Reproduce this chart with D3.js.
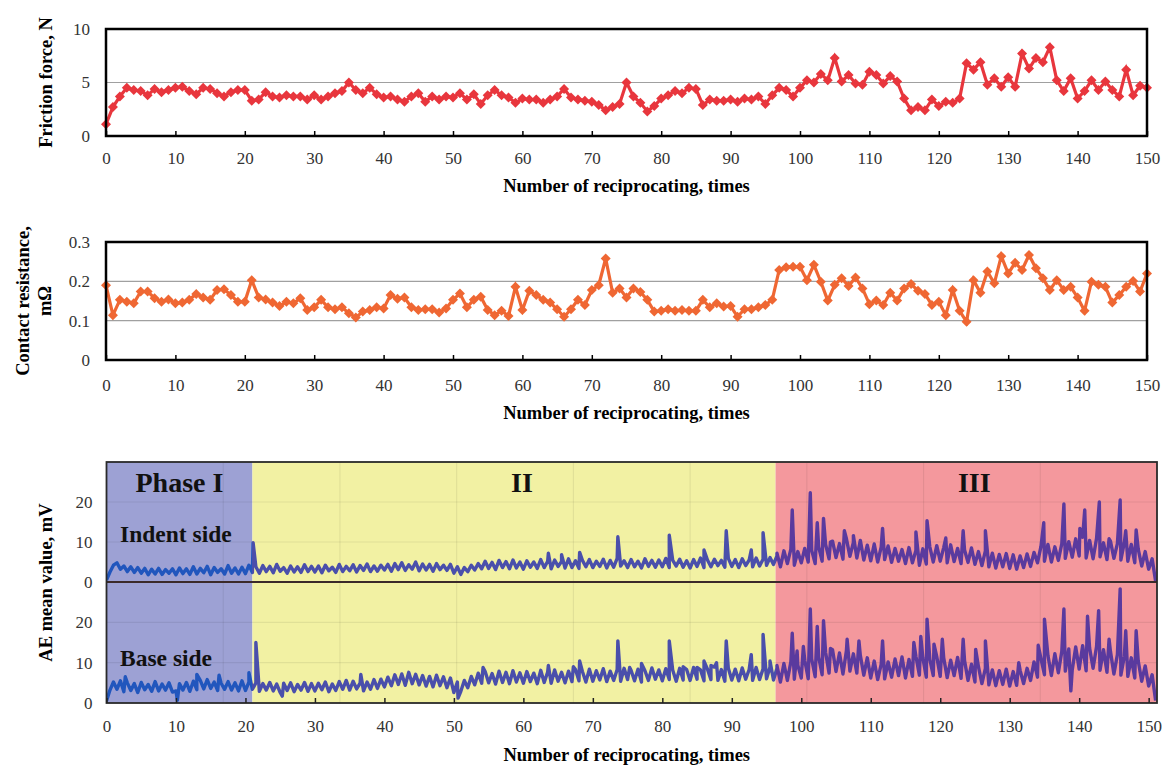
<!DOCTYPE html>
<html>
<head>
<meta charset="utf-8">
<script src="https://cdn.jsdelivr.net/npm/d3@7"></script>
<style>
  body { margin: 0; background: #fff; }
  text { font-family: "Liberation Serif", "Times New Roman", serif; }
</style>
</head>
<body>
<div id="chart"></div>
<script>
// reciprocating cycles 0..150 for the two marker charts
var cycles = d3.range(0, 151);

// Friction force, N
var frictionForce = [
  1.1, 2.7, 3.7, 4.5, 4.3, 4.2, 3.8, 4.4, 4.1, 4.3,
  4.5, 4.6, 4.2, 3.9, 4.5, 4.4, 4.0, 3.7, 4.1, 4.3,
  4.3, 3.3, 3.4, 4.1, 3.7, 3.6, 3.8, 3.7, 3.7, 3.4,
  3.8, 3.4, 3.7, 4.0, 4.2, 5.0, 4.3, 4.0, 4.5, 3.9,
  3.6, 3.7, 3.4, 3.2, 3.7, 4.0, 3.2, 3.7, 3.4, 3.7,
  3.6, 4.0, 3.4, 3.9, 3.0, 3.8, 4.3, 3.8, 3.6, 3.1,
  3.5, 3.4, 3.4, 3.1, 3.4, 3.7, 4.4, 3.6, 3.4, 3.3,
  3.2, 2.9, 2.4, 2.7, 3.0, 5.0, 3.7, 3.1, 2.3, 2.8,
  3.5, 3.8, 4.2, 4.0, 4.5, 4.4, 2.9, 3.4, 3.3, 3.3,
  3.4, 3.2, 3.5, 3.4, 3.7, 3.0, 3.8, 4.5, 4.3, 3.7,
  4.5, 5.2, 5.0, 5.8, 5.2, 7.3, 5.1, 5.7, 4.9, 4.8,
  6.0, 5.7, 4.9, 5.6, 5.1, 3.5, 2.4, 2.7, 2.4, 3.4,
  2.8, 3.2, 3.1, 3.5, 6.8, 6.2, 6.9, 4.8, 5.4, 4.6,
  5.5, 4.6, 7.7, 6.3, 7.3, 6.9, 8.3, 5.2, 4.2, 5.4,
  3.5, 4.2, 5.2, 4.3, 5.1, 4.3, 3.7, 6.2, 3.8, 4.7,
  4.5
];

// Contact resistance, mOhm
var contactResistance = [
  0.190, 0.114, 0.153, 0.148, 0.144, 0.174, 0.174, 0.157, 0.148, 0.154,
  0.144, 0.146, 0.153, 0.168, 0.159, 0.153, 0.178, 0.180, 0.165, 0.148,
  0.148, 0.203, 0.159, 0.154, 0.146, 0.137, 0.148, 0.144, 0.157, 0.127,
  0.134, 0.153, 0.134, 0.129, 0.134, 0.119, 0.108, 0.123, 0.127, 0.134,
  0.131, 0.165, 0.156, 0.159, 0.134, 0.127, 0.129, 0.129, 0.121, 0.131,
  0.153, 0.169, 0.134, 0.153, 0.161, 0.127, 0.114, 0.125, 0.112, 0.186,
  0.127, 0.176, 0.165, 0.153, 0.146, 0.129, 0.110, 0.129, 0.153, 0.140,
  0.178, 0.190, 0.258, 0.171, 0.182, 0.159, 0.182, 0.173, 0.153, 0.123,
  0.125, 0.129, 0.125, 0.127, 0.125, 0.125, 0.153, 0.134, 0.144, 0.136,
  0.137, 0.110, 0.129, 0.129, 0.134, 0.140, 0.153, 0.229, 0.236, 0.237,
  0.237, 0.203, 0.242, 0.199, 0.151, 0.191, 0.208, 0.188, 0.210, 0.182,
  0.142, 0.151, 0.140, 0.171, 0.151, 0.182, 0.193, 0.176, 0.168, 0.140,
  0.148, 0.114, 0.178, 0.125, 0.097, 0.203, 0.171, 0.225, 0.195, 0.264,
  0.220, 0.247, 0.229, 0.267, 0.233, 0.208, 0.178, 0.203, 0.178, 0.186,
  0.159, 0.125, 0.199, 0.191, 0.186, 0.146, 0.165, 0.186, 0.201, 0.174,
  0.220
];

// AE mean value, mV, sampled every half cycle (0, 0.5, 1, ... 151)
var aeStep = 0.5;
var aeIndent = [
  0.5, 2.5, 4.2, 4.8, 3.2, 4.0, 2.6, 3.8, 2.4, 3.6, 2.2, 3.4, 1.8, 3.2, 2.0, 3.4, 1.9, 3.1, 2.2, 3.3,
  1.8, 3.5, 2.1, 3.3, 1.9, 3.8, 2.0, 3.4, 2.3, 3.9, 1.8, 3.6, 2.4, 3.3, 2.0, 4.1, 2.2, 3.5, 2.0, 3.7,
  2.1, 4.2, 2.4, 3.8, 2.2, 4.1, 2.6, 3.9, 2.3, 4.4, 2.7, 3.6, 2.2, 4.0, 2.5, 3.8, 2.4, 4.3, 2.6, 3.9,
  2.5, 4.0, 2.3, 4.2, 2.8, 3.7, 2.4, 4.4, 2.6, 3.9, 2.8, 4.3, 2.5, 4.1, 2.9, 4.5, 2.6, 4.0, 2.7, 4.2,
  3.0, 4.4, 2.7, 4.6, 3.1, 4.8, 2.9, 4.3, 3.2, 5.0, 2.8, 4.5, 3.0, 4.4, 2.7, 4.6, 3.1, 4.2, 2.9, 4.4,
  2.2, 3.8, 1.9, 3.6, 2.6, 4.2, 3.0, 4.6, 3.3, 5.2, 3.4, 4.9, 3.1, 5.4, 3.6, 5.1, 3.3, 5.5, 3.5, 5.0,
  3.2, 5.3, 3.7, 5.0, 3.4, 5.6, 3.6, 5.2, 3.3, 5.5, 3.9, 5.1, 3.5, 5.8, 3.6, 5.3, 3.4, 5.4, 3.8, 5.6,
  3.6, 5.2, 3.9, 5.7, 3.5, 5.4, 3.7, 5.9, 4.0, 5.3, 3.6, 5.6, 3.8, 5.2, 3.5, 5.8, 3.9, 5.4, 3.7, 5.5,
  3.8, 5.9, 3.6, 5.4, 4.0, 5.7, 3.7, 5.3, 3.5, 5.6, 3.9, 6.0, 3.6, 5.5, 3.8, 5.7, 4.1, 5.4, 3.7, 5.9,
  3.9, 5.6, 3.6, 5.8, 4.1, 5.5, 3.8, 6.0, 4.0, 5.7, 4.2, 6.1, 4.4, 6.5, 3.8, 7.8, 4.6, 8.2, 4.2, 7.6,
  4.8, 8.4, 5.0, 7.9, 4.6, 8.8, 5.2, 9.4, 5.8, 10.2, 6.1, 9.6, 5.7, 10.8, 6.4, 9.9, 6.0, 10.4, 5.5, 9.2,
  5.3, 9.5, 5.0, 8.7, 5.6, 9.0, 4.9, 8.4, 5.2, 8.1, 4.6, 8.6, 4.8, 7.9, 4.2, 8.3, 4.5, 8.8, 5.0, 9.1,
  5.2, 8.6, 4.8, 9.3, 5.1, 8.4, 4.6, 8.0, 4.9, 8.5, 4.4, 7.6, 4.1, 7.8, 3.8, 7.2, 3.5, 6.9, 3.8, 7.1,
  3.4, 6.8, 3.2, 6.5, 3.6, 7.0, 3.9, 7.4, 4.8, 8.9, 5.2, 9.4, 5.0, 8.8, 5.4, 9.6, 5.9, 10.1, 6.2, 10.8,
  6.5, 11.2, 6.0, 10.4, 5.8, 10.9, 6.3, 9.8, 5.6, 10.2, 5.9, 9.6, 5.5, 9.9, 5.2, 9.4, 4.8, 8.2, 4.0, 7.6,
  3.2, 5.8, 0.2
];
var aeBase = [
  0.5, 3.2, 5.2, 3.4, 5.5, 2.8, 5.0, 3.1, 4.8, 2.6, 5.1, 3.3, 4.6, 2.9, 5.3, 3.0, 4.7, 3.2, 5.0, 2.7,
  3.0, 4.8, 3.2, 5.1, 2.9, 5.4, 3.3, 5.6, 3.5, 5.8, 3.6, 5.2, 3.1, 4.9, 3.4, 5.3, 3.2, 5.0, 3.0, 5.5,
  3.1, 5.2, 3.4, 5.0, 2.9, 4.8, 3.2, 5.1, 3.0, 4.7, 2.6, 4.9, 3.1, 5.0, 2.8, 4.6, 3.2, 5.1, 2.9, 4.8,
  3.0, 4.9, 3.3, 5.2, 2.8, 4.7, 3.1, 5.3, 3.4, 5.6, 3.2, 5.4, 3.5, 4.9, 3.0, 5.2, 3.4, 5.8, 3.6, 5.9,
  4.0, 6.4, 4.3, 7.0, 4.6, 7.2, 4.4, 7.6, 4.8, 7.1, 4.5, 6.8, 4.2, 6.6, 4.0, 6.9, 4.3, 6.5, 3.8, 6.2,
  2.6, 5.2, 2.9, 5.6, 3.8, 6.6, 4.5, 7.4, 4.9, 7.8, 5.0, 7.3, 4.7, 7.9, 5.1, 7.6, 4.8, 8.0, 5.2, 7.5,
  4.9, 7.8, 5.3, 7.4, 4.8, 8.1, 5.1, 7.7, 4.9, 8.2, 5.4, 7.6, 5.0, 7.9, 5.3, 8.3, 5.5, 7.8, 5.2, 8.4,
  5.4, 8.0, 5.7, 8.5, 5.3, 7.9, 5.6, 8.3, 5.4, 8.6, 5.8, 8.1, 5.5, 8.4, 5.2, 8.0, 5.6, 8.7, 5.9, 8.2,
  5.5, 8.5, 5.8, 8.1, 5.4, 8.6, 5.7, 8.3, 5.6, 8.8, 5.9, 8.2, 5.5, 8.4, 5.8, 8.9, 5.6, 8.3, 5.4, 8.6,
  5.7, 8.4, 5.5, 8.7, 5.9, 8.3, 5.6, 8.8, 5.8, 8.5, 6.0, 8.9, 5.7, 8.6, 5.2, 9.8, 5.6, 10.2, 5.9, 9.4,
  6.2, 10.6, 6.0, 10.9, 6.5, 11.4, 7.0, 12.6, 7.4, 13.2, 7.8, 12.4, 7.2, 13.0, 7.9, 12.2, 7.4, 11.8, 6.9, 11.2,
  6.2, 10.4, 5.8, 9.6, 6.0, 10.2, 6.4, 10.9, 6.8, 11.4, 6.2, 10.8, 6.6, 11.6, 6.9, 11.2, 6.4, 10.8, 6.8, 11.5,
  6.6, 11.2, 6.3, 10.6, 6.8, 11.3, 6.1, 10.5, 5.6, 9.6, 5.2, 9.0, 4.8, 8.6, 4.5, 8.2, 4.3, 8.0, 4.6, 8.4,
  4.2, 7.8, 4.4, 8.1, 4.8, 8.6, 5.6, 10.2, 6.4, 11.0, 7.0, 11.8, 6.8, 12.2, 7.5, 12.8, 7.9, 13.4, 8.2, 13.9,
  8.4, 14.2, 8.0, 13.6, 8.6, 14.0, 8.1, 13.2, 7.6, 12.8, 7.2, 12.0, 6.9, 11.6, 6.6, 11.2, 6.2, 10.4, 5.4, 9.2,
  4.2, 7.0, 0.6
];

// sharp single bursts [cycle, mV]
var indentPeaks = [
  [21.1, 9.8], [63.6, 7.2], [65.5, 6.8], [68.1, 7.4], [73.6, 11.3], [81.0, 11.7],
  [86.0, 8.0], [89.2, 12.8], [92.8, 8.0], [94.5, 12.3], [96.5, 7.2], [98.7, 18.0],
  [101.3, 22.3], [102.3, 14.8], [103.2, 15.9], [104.2, 10.0], [106.2, 12.8], [107.5, 11.6],
  [111.7, 13.4], [116.5, 12.5], [118.1, 15.3], [120.8, 11.0], [123.3, 12.8], [126.5, 12.8],
  [134.9, 14.8], [137.8, 19.5], [140.1, 13.4], [140.8, 18.0], [142.9, 20.0], [144.3, 10.8],
  [145.9, 20.5], [146.7, 12.8], [148.2, 13.0]
];
var basePeaks = [
  [2.7, 6.5], [10.2, 0.7], [13.0, 7.1], [16.2, 6.9], [20.5, 7.5], [21.5, 15.0], [25.3, 1.7],
  [36.6, 7.1], [50.6, 1.2], [54.2, 8.8], [63.6, 9.3], [67.2, 9.0], [68.1, 10.4], [73.6, 15.4],
  [75.3, 8.8], [77.0, 9.8], [81.0, 15.4], [83.0, 9.0], [85.0, 8.8], [86.0, 10.4], [87.0, 9.3],
  [87.8, 10.0], [89.2, 15.4], [92.8, 12.0], [94.5, 17.0], [95.5, 10.4], [96.5, 9.3],
  [98.7, 17.3], [99.4, 12.9], [100.3, 14.0], [101.3, 23.3], [102.3, 19.0], [103.2, 20.4],
  [104.2, 13.5], [106.6, 15.8], [108.3, 15.4], [111.7, 15.4], [116.2, 15.0], [117.2, 16.5],
  [118.1, 20.8], [119.1, 14.6], [120.3, 15.8], [123.3, 15.8], [125.1, 13.3], [126.5, 15.4],
  [131.3, 10.0], [134.1, 14.3], [135.0, 20.8], [137.8, 23.3], [138.8, 3.0], [141.2, 21.5],
  [142.8, 22.9], [144.3, 15.8], [145.9, 28.3], [146.7, 17.9], [148.2, 17.9]
];

// wear phases
var phaseNames = ["Phase I", "II", "III"];
var phaseStarts = [0, 21.0, 96.3];
var phaseEnds = [21.0, 96.3, 151.2];
var phaseFill = ["#9da1d4", "#f2f1a3", "#f4989d"];
var phaseLine = ["#2156bd", "#4a4fab", "#5a3a9e"];

var xTicks = d3.range(0, 151, 10);

var svgWidth = 1170;
var svgHeight = 767;

var svg = d3.select("#chart")
  .append("svg")
  .attr("width", svgWidth)
  .attr("height", svgHeight);

var xScale = d3.scaleLinear().domain([0, 150]).range([106, 1147]);
var diamond = "M0,-5L5,0L0,5L-5,0Z";

// one marker chart (friction / resistance)
function markerPanel(values, color, yDomain, yRange, yTicks, gridVals, titleLines, titleX, tickBase, titleBase) {
  var yScale = d3.scaleLinear().domain(yDomain).range(yRange);
  var g = svg.append("g");

  g.selectAll(".grid")
    .data(gridVals)
    .enter()
    .append("line")
    .attr("x1", xScale.range()[0])
    .attr("x2", xScale.range()[1])
    .attr("y1", d => yScale(d))
    .attr("y2", d => yScale(d))
    .attr("stroke", "#a0a0a0")
    .attr("stroke-width", 1.2);

  var line = d3.line()
    .x((d, i) => xScale(cycles[i]))
    .y(d => yScale(d));

  g.append("path")
    .datum(values)
    .attr("d", line)
    .attr("fill", "none")
    .attr("stroke", color)
    .attr("stroke-width", 3.2);

  g.selectAll(".mk")
    .data(values)
    .enter()
    .append("path")
    .attr("d", diamond)
    .attr("transform", (d, i) => `translate(${xScale(cycles[i])},${yScale(d)})`)
    .attr("fill", color);

  g.append("rect")
    .attr("x", xScale.range()[0])
    .attr("y", yRange[1])
    .attr("width", xScale.range()[1] - xScale.range()[0])
    .attr("height", yRange[0] - yRange[1])
    .attr("fill", "none")
    .attr("stroke", "#000")
    .attr("stroke-width", 2.5);

  var bottomAxis = d3.axisBottom(xScale).tickValues(xTicks).tickSize(-5).tickPadding(tickBase - yRange[0] - 12);
  var xa = g.append("g")
    .attr("transform", `translate(0, ${yRange[0]})`)
    .call(bottomAxis);
  xa.select(".domain").remove();
  xa.selectAll("line").attr("stroke", "#000").attr("stroke-width", 1.5);
  xa.selectAll("text").attr("font-family", "Liberation Serif").attr("font-size", 17).attr("fill", "#333");

  var leftAxis = d3.axisLeft(yScale).tickValues(yTicks).tickSize(0).tickPadding(16).tickFormat(d => d);
  var ya = g.append("g")
    .attr("transform", `translate(${xScale.range()[0]}, 0)`)
    .call(leftAxis);
  ya.select(".domain").remove();
  ya.selectAll("text").attr("font-family", "Liberation Serif").attr("font-size", 17).attr("fill", "#333");

  g.append("text")
    .attr("x", (xScale.range()[0] + xScale.range()[1]) / 2)
    .attr("y", titleBase)
    .attr("text-anchor", "middle")
    .attr("font-weight", "bold")
    .attr("font-size", 18.5)
    .text("Number of reciprocating, times");

  var yMid = (yRange[0] + yRange[1]) / 2;
  titleLines.forEach(function(t, i) {
    g.append("text")
      .attr("transform", `translate(${titleX[i]}, ${yMid}) rotate(-90)`)
      .attr("text-anchor", "middle")
      .attr("font-weight", "bold")
      .attr("font-size", 18.5)
      .text(t);
  });
}

markerPanel(frictionForce, "#e8363d", [0, 10], [136, 29], [0, 5, 10], [5],
  ["Friction force, N"], [52], 164, 192);
markerPanel(contactResistance, "#ef6733", [0, 0.3], [360, 242], [0, 0.1, 0.2, 0.3], [0.1, 0.2],
  ["Contact resistance,", "m\u03a9"], [29, 51], 391, 419);

// ---------------- AE panel ----------------
var xAE = d3.scaleLinear().domain([0, 151.2]).range([106.5, 1157]);
var yIndent = d3.scaleLinear().domain([0, 30]).range([582, 462]);
var yBase = d3.scaleLinear().domain([0, 30]).range([703, 582]);
var aeTop = 462, aeBottom = 703;

var ae = svg.append("g");

ae.selectAll(".phase")
  .data(phaseNames)
  .enter()
  .append("rect")
  .attr("x", (d, i) => xAE(phaseStarts[i]))
  .attr("width", (d, i) => xAE(phaseEnds[i]) - xAE(phaseStarts[i]))
  .attr("y", aeTop)
  .attr("height", aeBottom - aeTop)
  .attr("fill", (d, i) => phaseFill[i]);

// faint grid of the original AE record (9 divisions)
var gridScale = d3.scaleLinear().domain([0, 9]).range(xAE.range());
ae.selectAll(".vgrid")
  .data(d3.range(1, 9))
  .enter()
  .append("line")
  .attr("x1", d => gridScale(d))
  .attr("x2", d => gridScale(d))
  .attr("y1", aeTop)
  .attr("y2", aeBottom)
  .attr("stroke", "rgba(0,0,0,0.07)")
  .attr("stroke-width", 1.2);

[yIndent, yBase].forEach(function(ys) {
  ae.selectAll(null)
    .data([10, 20])
    .enter()
    .append("line")
    .attr("x1", xAE.range()[0])
    .attr("x2", xAE.range()[1])
    .attr("y1", d => ys(d))
    .attr("y2", d => ys(d))
    .attr("stroke", "rgba(0,0,0,0.07)")
    .attr("stroke-width", 1.2);
});

// line colour changes with the phase behind it
var grad = svg.append("defs").append("linearGradient")
  .attr("id", "aeGrad")
  .attr("gradientUnits", "userSpaceOnUse")
  .attr("x1", xAE.range()[0]).attr("x2", xAE.range()[1])
  .attr("y1", 0).attr("y2", 0);
phaseNames.forEach(function(p, i) {
  var w = xAE.range()[1] - xAE.range()[0];
  grad.append("stop").attr("offset", (xAE(phaseStarts[i]) - xAE.range()[0]) / w).attr("stop-color", phaseLine[i]);
  grad.append("stop").attr("offset", (xAE(phaseEnds[i]) - xAE.range()[0]) / w).attr("stop-color", phaseLine[i]);
});

svg.select("defs").append("clipPath").attr("id", "aeClip")
  .append("rect")
  .attr("x", xAE.range()[0]).attr("y", aeTop)
  .attr("width", xAE.range()[1] - xAE.range()[0]).attr("height", aeBottom - aeTop);

function aeSeries(values, peaks) {
  var pts = values.map((v, i) => [i * aeStep, v]);
  peaks.forEach(p => pts.push(p));
  pts.sort((a, b) => a[0] - b[0]);
  return pts;
}

[[aeIndent, indentPeaks, yIndent], [aeBase, basePeaks, yBase]].forEach(function(s) {
  var ys = s[2];
  ae.append("path")
    .datum(aeSeries(s[0], s[1]))
    .attr("clip-path", "url(#aeClip)")
    .attr("d", d3.line().x(d => xAE(d[0])).y(d => ys(d[1])))
    .attr("fill", "none")
    .attr("stroke", "url(#aeGrad)")
    .attr("stroke-width", 3.4)
    .attr("stroke-linejoin", "round");
});

// divider between indent and base records
ae.append("line")
  .attr("x1", xAE.range()[0]).attr("x2", xAE.range()[1])
  .attr("y1", yIndent(0)).attr("y2", yIndent(0))
  .attr("stroke", "#3b2a2a")
  .attr("stroke-width", 1.8);

ae.append("rect")
  .attr("x", xAE.range()[0]).attr("y", aeTop)
  .attr("width", xAE.range()[1] - xAE.range()[0]).attr("height", aeBottom - aeTop)
  .attr("fill", "none")
  .attr("stroke", "#2a2a2a")
  .attr("stroke-width", 1.8);

var aeX = ae.append("g")
  .attr("transform", `translate(0, ${aeBottom})`)
  .call(d3.axisBottom(xAE).tickValues(xTicks).tickSize(-5).tickPadding(17));
aeX.select(".domain").remove();
aeX.selectAll("line").attr("stroke", "#222").attr("stroke-width", 1.5);
aeX.selectAll("text").attr("font-family", "Liberation Serif").attr("font-size", 17).attr("fill", "#333");

[yIndent, yBase].forEach(function(ys) {
  var a = ae.append("g")
    .attr("transform", `translate(${xAE.range()[0]}, 0)`)
    .call(d3.axisLeft(ys).tickValues([0, 10, 20]).tickSize(0).tickPadding(14));
  a.select(".domain").remove();
  a.selectAll("text").attr("font-family", "Liberation Serif").attr("font-size", 17).attr("fill", "#333");
});

ae.selectAll(".phaseLabel")
  .data(phaseNames)
  .enter()
  .append("text")
  .attr("x", (d, i) => xAE((phaseStarts[i] + phaseEnds[i]) / 2) + (i ? 8 : 0))
  .attr("y", 492)
  .attr("text-anchor", "middle")
  .attr("font-weight", "bold")
  .attr("font-size", 28)
  .attr("fill", "#111")
  .text(d => d);

ae.append("text")
  .attr("x", 120).attr("y", 542)
  .attr("font-weight", "bold").attr("font-size", 23.5).attr("fill", "#111")
  .text("Indent side");

ae.append("text")
  .attr("x", 120).attr("y", 666)
  .attr("font-weight", "bold").attr("font-size", 23.5).attr("fill", "#111")
  .text("Base side");

ae.append("text")
  .attr("x", (xAE.range()[0] + xAE.range()[1]) / 2 - 5)
  .attr("y", 761)
  .attr("text-anchor", "middle")
  .attr("font-weight", "bold")
  .attr("font-size", 18.5)
  .text("Number of reciprocating, times");

ae.append("text")
  .attr("transform", `translate(52, ${(aeTop + aeBottom) / 2}) rotate(-90)`)
  .attr("text-anchor", "middle")
  .attr("font-weight", "bold")
  .attr("font-size", 18.5)
  .text("AE mean value, mV");
</script>
</body>
</html>
